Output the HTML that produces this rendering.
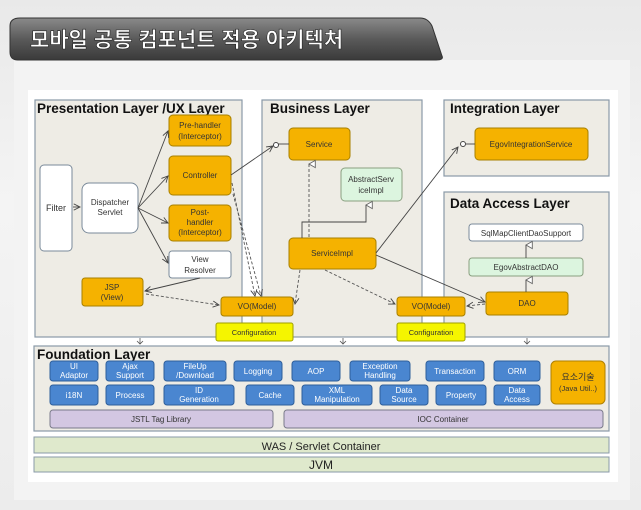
<!DOCTYPE html>
<html><head><meta charset="utf-8"><style>
body{margin:0;width:641px;height:510px;overflow:hidden;background:linear-gradient(180deg,#e9e9e9,#f4f4f4 40%,#ececec);}
svg{position:absolute;left:0;top:0}
text{font-family:"Liberation Sans","Noto Sans CJK KR",sans-serif;}
</style></head><body>
<svg width="641" height="510" viewBox="0 0 641 510">
<defs>
<linearGradient id="tab" x1="0" y1="0" x2="0" y2="1"><stop offset="0" stop-color="#8a8a8a"/><stop offset="0.5" stop-color="#5a5a5a"/><stop offset="1" stop-color="#3a3a3a"/></linearGradient>
<marker id="a" markerWidth="8" markerHeight="8" refX="7" refY="4" orient="auto"><path d="M0,0.5 L7,4 L0,7.5" fill="none" stroke="#444" stroke-width="1"/></marker>
<marker id="t" markerWidth="10" markerHeight="10" refX="5" refY="1" orient="auto-start-reverse"><path d="M1,8 L5,1 L9,8 Z" fill="#fff" stroke="#666"/></marker>
</defs>
<rect x="14" y="60" width="616" height="440" fill="#f3f3f3"/>
<path d="M10,26 Q10,18 20,18 L420,18 Q428,18 432,26 L442,56 Q444,60 436,60 L18,60 Q10,60 10,52 Z" fill="url(#tab)" stroke="#333"/>
<text x="30" y="47" font-size="21" font-weight="bold" fill="#fff" stroke="#222" stroke-width="0.6">모바일 공통 컴포넌트 적용 아키텍처</text>
<rect x="28" y="90" width="590" height="392" fill="#fff"/>
<g fill="#eeece5" stroke="#8a9aa8" stroke-width="1.2">
<rect x="35" y="100" width="207" height="237"/>
<rect x="262" y="100" width="160" height="237"/>
<rect x="444" y="100" width="165" height="76"/>
<rect x="444" y="192" width="165" height="145"/>
<rect x="34" y="346" width="575" height="85"/>
</g>
<g fill="#dfe9cc" stroke="#8a9aa8"><rect x="34" y="437" width="575" height="16"/><rect x="34" y="457" width="575" height="15"/></g>
<g font-weight="bold" font-size="13.5" fill="#111">
<text x="37" y="113">Presentation Layer /UX Layer</text>
<text x="270" y="113">Business Layer</text>
<text x="450" y="113">Integration Layer</text>
<text x="450" y="208">Data Access Layer</text>
<text x="37" y="359">Foundation Layer</text>
</g>
<text x="321" y="450" font-size="11" text-anchor="middle" fill="#222">WAS / Servlet Container</text>
<text x="321" y="469" font-size="12" text-anchor="middle" fill="#222">JVM</text>
<g fill="#4a86d0" stroke="#2f5f9a">
<rect x="50" y="361" width="48" height="20" rx="3"/><rect x="106" y="361" width="48" height="20" rx="3"/><rect x="164" y="361" width="62" height="20" rx="3"/><rect x="234" y="361" width="48" height="20" rx="3"/><rect x="292" y="361" width="48" height="20" rx="3"/><rect x="350" y="361" width="60" height="20" rx="3"/><rect x="426" y="361" width="58" height="20" rx="3"/><rect x="494" y="361" width="46" height="20" rx="3"/>
<rect x="50" y="385" width="48" height="20" rx="3"/><rect x="106" y="385" width="48" height="20" rx="3"/><rect x="164" y="385" width="70" height="20" rx="3"/><rect x="246" y="385" width="48" height="20" rx="3"/><rect x="302" y="385" width="70" height="20" rx="3"/><rect x="380" y="385" width="48" height="20" rx="3"/><rect x="436" y="385" width="50" height="20" rx="3"/><rect x="494" y="385" width="46" height="20" rx="3"/>
</g>
<g font-size="8" fill="#fff" text-anchor="middle">
<text x="74" y="369">UI</text><text x="74" y="378">Adaptor</text>
<text x="130" y="369">Ajax</text><text x="130" y="378">Support</text>
<text x="195" y="369">FileUp</text><text x="195" y="378">/Download</text>
<text x="258" y="374">Logging</text><text x="316" y="374">AOP</text>
<text x="380" y="369">Exception</text><text x="380" y="378">Handling</text>
<text x="455" y="374">Transaction</text><text x="517" y="374">ORM</text>
<text x="74" y="398">i18N</text><text x="130" y="398">Process</text>
<text x="199" y="393">ID</text><text x="199" y="402">Generation</text>
<text x="270" y="398">Cache</text>
<text x="337" y="393">XML</text><text x="337" y="402">Manipulation</text>
<text x="404" y="393">Data</text><text x="404" y="402">Source</text>
<text x="461" y="398">Property</text>
<text x="517" y="393">Data</text><text x="517" y="402">Access</text>
</g>
<rect x="551" y="361" width="54" height="43" rx="5" fill="#f5b200" stroke="#b08000"/>
<text x="578" y="380" font-size="9" text-anchor="middle" fill="#333">요소기술</text>
<text x="578" y="391" font-size="7.5" text-anchor="middle" fill="#333">(Java Util..)</text>
<g fill="#d3c7e2" stroke="#7a7a8a"><rect x="50" y="410" width="223" height="18" rx="3"/><rect x="284" y="410" width="319" height="18" rx="3"/></g>
<text x="161" y="422" font-size="8" text-anchor="middle" fill="#333">JSTL Tag Library</text>
<text x="443" y="422" font-size="8" text-anchor="middle" fill="#333">IOC Container</text>
<g stroke="#7a8a9a" fill="#fff"><rect x="40" y="165" width="32" height="86" rx="4"/><rect x="82" y="183" width="56" height="50" rx="7"/><rect x="169" y="251" width="62" height="27" rx="3"/><rect x="469" y="224" width="114" height="17" rx="3"/></g>
<g stroke="#8aa080" fill="#dcf5df"><rect x="341" y="168" width="61" height="33" rx="4"/><rect x="469" y="258" width="114" height="18" rx="3"/></g>
<g fill="#f5b200" stroke="#a88000">
<rect x="169" y="115" width="62" height="31" rx="4"/><rect x="169" y="156" width="62" height="39" rx="4"/><rect x="169" y="205" width="62" height="36" rx="4"/>
<rect x="82" y="278" width="61" height="28" rx="3"/><rect x="221" y="297" width="72" height="19" rx="3"/><rect x="397" y="297" width="68" height="19" rx="3"/>
<rect x="289" y="128" width="61" height="32" rx="4"/><rect x="289" y="238" width="87" height="31" rx="4"/>
<rect x="475" y="128" width="113" height="32" rx="4"/><rect x="486" y="292" width="82" height="23" rx="3"/>
</g>
<g fill="#f5f500" stroke="#a0a000"><rect x="216" y="323" width="77" height="18" rx="2"/><rect x="397" y="323" width="68" height="18" rx="2"/></g>
<g font-size="8" fill="#333" text-anchor="middle">
<text x="56" y="211" font-size="9">Filter</text>
<text x="110" y="205">Dispatcher</text><text x="110" y="215">Servlet</text>
<text x="200" y="128">Pre-handler</text><text x="200" y="139">(Interceptor)</text>
<text x="200" y="178">Controller</text>
<text x="200" y="215">Post-</text><text x="200" y="225">handler</text><text x="200" y="235">(Interceptor)</text>
<text x="200" y="262">View</text><text x="200" y="273">Resolver</text>
<text x="112" y="290">JSP</text><text x="112" y="300">(View)</text>
<text x="257" y="309">VO(Model)</text><text x="431" y="309">VO(Model)</text>
<text x="254" y="335" font-size="7.5">Configuration</text><text x="431" y="335" font-size="7.5">Configuration</text>
<text x="319" y="147">Service</text>
<text x="371" y="182">AbstractServ</text><text x="371" y="193">iceImpl</text>
<text x="332" y="256">ServiceImpl</text>
<text x="531" y="147">EgovIntegrationService</text>
<text x="526" y="236">SqlMapClientDaoSupport</text>
<text x="526" y="270">EgovAbstractDAO</text>
<text x="527" y="306">DAO</text>
</g>
<g stroke="#444" fill="none" stroke-width="0.9">
<line x1="73" y1="207" x2="80" y2="207" marker-end="url(#a)"/>
<line x1="138" y1="208" x2="168" y2="131" marker-end="url(#a)"/>
<line x1="138" y1="208" x2="168" y2="176" marker-end="url(#a)"/>
<line x1="138" y1="208" x2="168" y2="223" marker-end="url(#a)"/>
<line x1="138" y1="208" x2="168" y2="263" marker-end="url(#a)"/>
<line x1="200" y1="278" x2="145" y2="291" marker-end="url(#a)"/>
<line x1="231" y1="175" x2="273" y2="146" marker-end="url(#a)"/>
<line x1="278" y1="144" x2="289" y2="144"/>
<line x1="376" y1="253" x2="458" y2="147" marker-end="url(#a)"/>
<line x1="466" y1="144" x2="475" y2="144"/>
<line x1="376" y1="255" x2="485" y2="302" marker-end="url(#a)"/>
<polyline points="302,238 302,222 366,222 366,205" marker-end="url(#t)"/>
<line x1="526" y1="292" x2="526" y2="280" marker-end="url(#t)"/>
<line x1="526" y1="258" x2="526" y2="245" marker-end="url(#t)"/>
</g>
<circle cx="276" cy="145" r="2.5" fill="#fff" stroke="#444"/>
<circle cx="463" cy="144" r="2.5" fill="#fff" stroke="#444"/>
<g stroke="#555" fill="none" stroke-dasharray="3,2" stroke-width="0.9">
<line x1="232" y1="183" x2="255" y2="296" marker-end="url(#a)"/>
<line x1="233" y1="194" x2="261" y2="296" marker-end="url(#a)"/>
<line x1="146" y1="294" x2="219" y2="305" marker-end="url(#a)"/>
<line x1="300" y1="270" x2="295" y2="304" marker-end="url(#a)"/>
<line x1="325" y1="270" x2="395" y2="304" marker-end="url(#a)"/>
<line x1="485" y1="304" x2="467" y2="306" marker-end="url(#a)"/>
<line x1="309" y1="237" x2="309" y2="164" marker-end="url(#t)"/>
</g>
<g stroke="#555" fill="none" stroke-width="0.8">
<path d="M140,338 v6 M137,341 l3,3 l3,-3 M343,338 v6 M340,341 l3,3 l3,-3 M527,338 v6 M524,341 l3,3 l3,-3"/>
</g>
</svg>
</body></html>
